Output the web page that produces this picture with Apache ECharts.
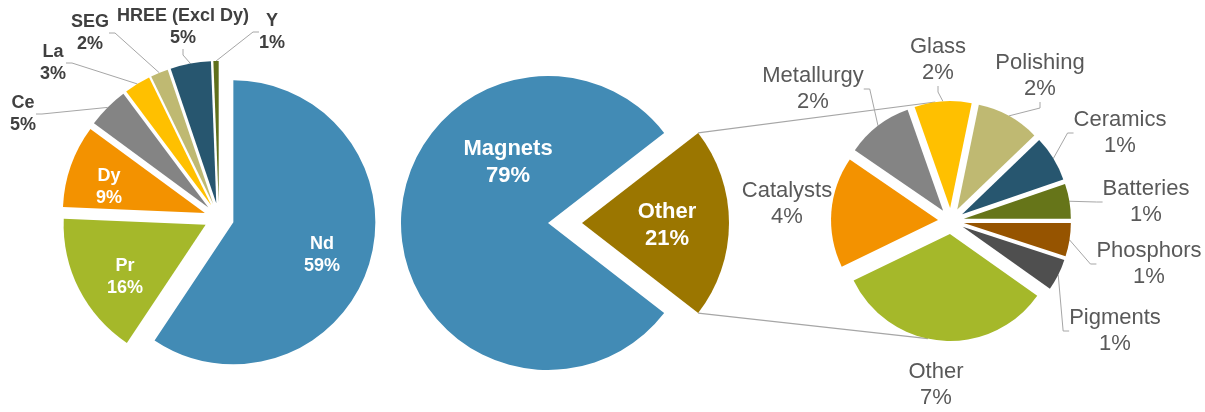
<!DOCTYPE html>
<html><head><meta charset="utf-8">
<script src="https://cdn.jsdelivr.net/npm/echarts@6/dist/echarts.min.js"></script>
<style>html,body{margin:0;padding:0;background:#fff}#c{width:1205px;height:412px}</style>
</head><body><div id="c"></div>
<script>
// ---- data (shares in %, labels shown rounded) ----
const elementNames = ['Nd', 'Pr', 'Dy', 'Ce', 'La', 'SEG', 'HREE (Excl Dy)', 'Y'];
const elementValues = [59.3, 16.3, 9.4, 4.7, 3.0, 2.0, 4.6, 0.6];
const useNames = ['Other', 'Magnets'];
const useValues = [21, 79];
const otherNames = ['Phosphors', 'Pigments', 'Other', 'Catalysts', 'Metallurgy', 'Glass', 'Polishing', 'Ceramics', 'Batteries'];
const otherValues = [1.05, 1.0, 6.9, 3.5, 2.1, 1.8, 2.0, 1.45, 1.1];

// ---- styles ----
const elementColors = ['#428BB5', '#A5B82A', '#F39200', '#848484', '#FFC000', '#BFB972', '#27566F', '#5F6F1B'];
const useColors = ['#9B7600', '#428BB5'];
const otherColors = ['#965400', '#4F4F4F', '#A5B82A', '#F39200', '#848484', '#FFC000', '#BFB972', '#27566F', '#667519'];
const elementInside = [true, true, true, false, false, false, false, false];
const elementLine = elementInside.map(v => !v);
const useLine = [false, false];
const otherLine = [true, true, false, false, true, true, true, true, true];

// label anchor positions (layout)
const elementLabelPos = [[322, 255], [125, 277], [109, 187], [23, 114], [53, 63], [90, 33], [183, 27], [272, 32]];
const useLabelPos = [[667, 225], [508, 162]];
const otherLabelPos = [[1149, 264], [1115, 331], [936, 385], [787, 204], [813, 89], [938, 60], [1040, 76], [1120, 133], [1146, 202]];

const FONT = '"Liberation Sans", Arial, sans-serif';
const LINE = { color: '#A6A6A6', width: 1 };

const leftC = [219, 218], leftR = 142, leftOff = 15;
const midC = [565, 223], midR = 147, midOff = 17;
const rightC = [951, 221], rightR = 107, rightOff = 13;
const midStart = useValues[0] / (useValues[0] + useValues[1]) * 180; // centre "Other" on 3 o'clock

function dir(aDeg) { const a = aDeg * Math.PI / 180; return [Math.sin(a), -Math.cos(a)]; }
function fmt(p) { return p.name + '\n' + Math.round(p.value) + '%'; }

// one series per slice, each shifted outward along its own mid-angle (exploded pie)
function explodedSeries(names, values, colors, o) {
  const total = values.reduce((a, b) => a + b, 0);
  let cum = 0;
  return names.map((n, i) => {
    const midFrac = (cum + values[i] / 2) / total;
    cum += values[i];
    const d = dir(90 - o.startAngle + midFrac * 360);
    const c = [o.center[0] + o.offset * d[0], o.center[1] + o.offset * d[1]];
    return {
      type: 'pie', silent: true, center: c, radius: o.radius, startAngle: o.startAngle, clockwise: true,
      avoidLabelOverlap: false, emphasis: { disabled: true },
      label: Object.assign({ position: 'outside', formatter: fmt, overflow: 'none', fontFamily: FONT }, o.label),
      labelLine: { show: true, length: 10, length2: 6, lineStyle: LINE },
      labelLayout: function (p) {
        return p.dataIndex === i ? { x: o.pos[i][0], y: o.pos[i][1], align: 'center', verticalAlign: 'middle' } : {};
      },
      data: names.map((m, j) => j === i ? {
        name: m, value: values[j], itemStyle: { color: colors[j] },
        label: o.labelColors ? { color: o.labelColors[j] } : {},
        labelLine: { show: o.line[j] }
      } : {
        name: m, value: values[j], itemStyle: { color: 'rgba(0,0,0,0)' },
        label: { show: false }, labelLine: { show: false }
      })
    };
  });
}

// connector lines between the exploded "Other" slice and the breakdown pie
const half = midStart * Math.PI / 180;
const sx = midC[0] + midOff + midR * Math.cos(half);
const topStart = [sx, midC[1] - midR * Math.sin(half)];
const botStart = [sx, midC[1] + midR * Math.sin(half)];
const dTop = dir(-7.5);
const topEnd = [rightC[0] + (rightR + rightOff) * dTop[0], rightC[1] + (rightR + rightOff) * dTop[1]];
const dOff = dir(184), dEdge = dir(192);
const botEnd = [rightC[0] + rightOff * dOff[0] + rightR * dEdge[0], rightC[1] + rightOff * dOff[1] + rightR * dEdge[1]];

const series = [].concat(
  explodedSeries(elementNames, elementValues, elementColors, {
    center: leftC, radius: leftR, offset: leftOff, startAngle: 90, pos: elementLabelPos, line: elementLine,
    labelColors: elementInside.map(v => v ? '#FFFFFF' : '#404040'),
    label: { fontSize: 18, fontWeight: 'bold', lineHeight: 22 }
  }),
  explodedSeries(useNames, useValues, useColors, {
    center: midC, radius: midR, offset: midOff, startAngle: midStart, pos: useLabelPos, line: useLine,
    label: { fontSize: 22, fontWeight: 'bold', lineHeight: 27, color: '#FFFFFF' }
  }),
  explodedSeries(otherNames, otherValues, otherColors, {
    center: rightC, radius: rightR, offset: rightOff, startAngle: 0, pos: otherLabelPos, line: otherLine,
    label: { fontSize: 22, lineHeight: 26, color: '#595959' }
  })
);

const chart = echarts.init(document.getElementById('c'), null, { renderer: 'canvas' });
chart.setOption({
  animation: false,
  backgroundColor: '#FFFFFF',
  graphic: [
    { type: 'line', z: 0, shape: { x1: topStart[0], y1: topStart[1], x2: topEnd[0], y2: topEnd[1] }, style: { stroke: '#A6A6A6', lineWidth: 1.2 } },
    { type: 'line', z: 0, shape: { x1: botStart[0], y1: botStart[1], x2: botEnd[0], y2: botEnd[1] }, style: { stroke: '#A6A6A6', lineWidth: 1.2 } }
  ],
  series: series
});
</script>
</body></html>
